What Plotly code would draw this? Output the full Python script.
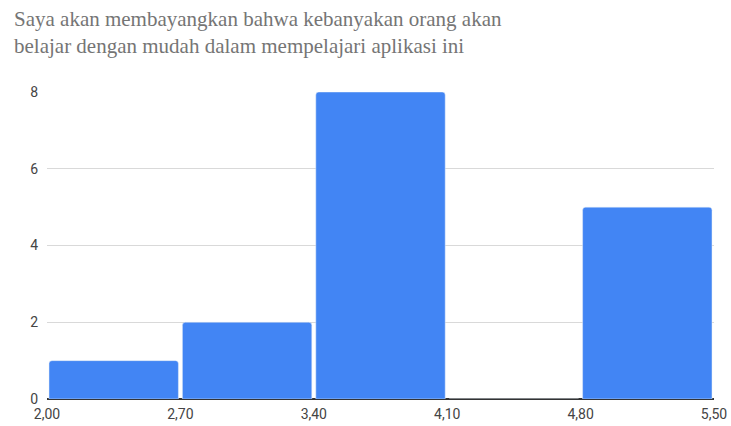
import plotly.graph_objects as go

# Bin edges and counts
bin_edges = [2.0, 2.7, 3.4, 4.1, 4.8, 5.5]
counts = [1, 2, 8, 0, 5]
tick_labels = ["2,00", "2,70", "3,40", "4,10", "4,80", "5,50"]
y_ticks = [0, 2, 4, 6, 8]

title_text = ("Saya akan membayangkan bahwa kebanyakan orang akan<br>"
              "belajar dengan mudah dalam mempelajari aplikasi ini")

centers = [(a + b) / 2 for a, b in zip(bin_edges[:-1], bin_edges[1:])]
widths = [(b - a) for a, b in zip(bin_edges[:-1], bin_edges[1:])]

# body margin is removed in the page (post_script), so use the full size
W, H = 731, 426
L, R, T, B = 47, 17, 92, 27
pw, ph = W - L - R, H - T - B

tick_font = dict(family="Roboto", size=14, color="#444444")

fig = go.Figure(go.Bar(
    x=centers,
    y=counts,
    width=[w * 0.97 for w in widths],
    marker=dict(color="#4285F4", cornerradius=3),
    hoverinfo="x+y",
))

fig.update_layout(
    width=W,
    height=H,
    paper_bgcolor="white",
    plot_bgcolor="white",
    margin=dict(l=L, r=R, t=T, b=B),
    showlegend=False,
    font=tick_font,
)

# title as an annotation so both lines stay on the page
fig.add_annotation(
    text=title_text,
    xref="paper", yref="paper",
    x=(12 - L) / pw, xanchor="left",
    y=1 + (T - 5) / ph, yanchor="top",
    align="left", showarrow=False,
    font=dict(family="Liberation Serif", size=21, color="#757575"),
)

fig.update_xaxes(
    range=[bin_edges[0], bin_edges[-1]],
    tickvals=bin_edges,
    ticktext=tick_labels,
    tickfont=tick_font,
    ticklabeloverflow="allow",
    showgrid=False,
    zeroline=False,
    showline=False,
    ticks="",
    ticklabelstandoff=5,
    automargin=False,
)

fig.update_yaxes(
    range=[0, 8],
    tickvals=y_ticks,
    tickfont=tick_font,
    showgrid=True,
    gridcolor="#d9d9d9",
    gridwidth=1,
    zeroline=True,
    zerolinecolor="#333333",
    zerolinewidth=1.5,
    ticks="",
    ticklabelstandoff=8,
    automargin=False,
)

fig.write_html("out.html",
               config={"displayModeBar": False},
               post_script="document.body.style.margin='0';"
                           "document.body.style.overflow='hidden';")
